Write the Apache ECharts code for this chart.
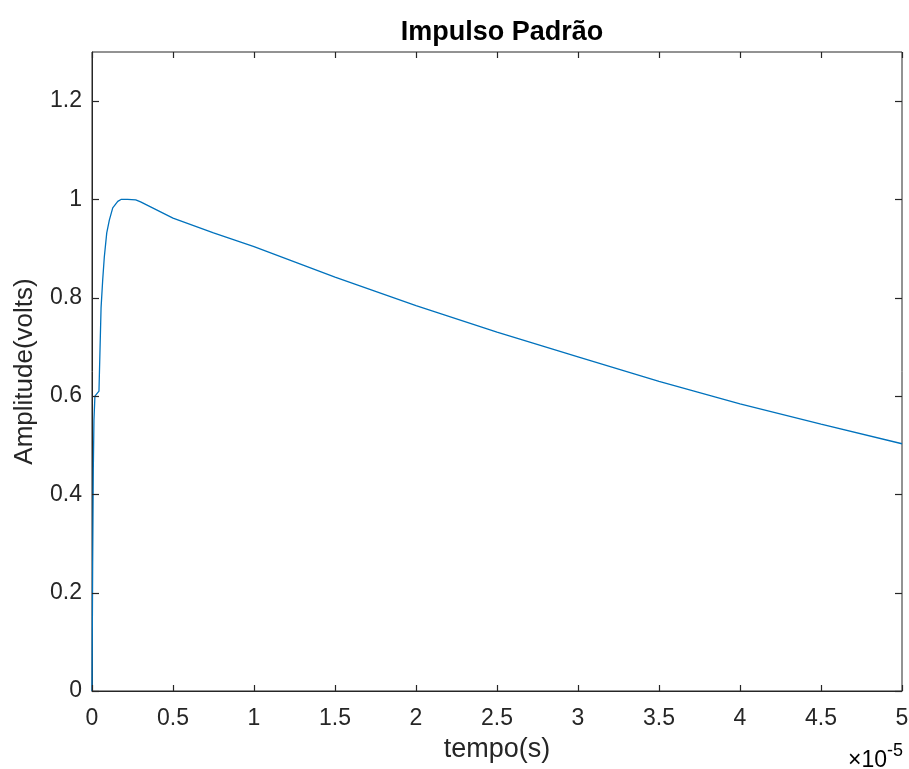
<!DOCTYPE html>
<html>
<head>
<meta charset="utf-8">
<script src="https://cdn.jsdelivr.net/npm/echarts@6/dist/echarts.min.js"></script>
<style>html,body{margin:0;padding:0;background:#fff}#chart{width:909px;height:769px}</style>
</head>
<body>
<div id="chart"></div>
<script>
// time in seconds
const timeSec = [0, 0.04e-6, 0.08e-6, 0.12e-6, 0.18e-6, 0.43e-6, 0.56e-6, 0.66e-6, 0.76e-6, 0.91e-6, 1.07e-6, 1.28e-6, 1.59e-6, 1.79e-6, 2.2e-6, 2.7e-6, 3.0e-6, 5e-6, 7.5e-6, 10e-6, 15e-6, 20e-6, 25e-6, 30e-6, 35e-6, 40e-6, 45e-6, 50e-6];
const amplitude = [0, 0.254, 0.45, 0.55, 0.60, 0.61, 0.78, 0.836, 0.883, 0.932, 0.958, 0.983, 0.996, 1.0, 1.0, 0.999, 0.995, 0.962, 0.932, 0.904, 0.842, 0.784, 0.73, 0.68, 0.63, 0.584, 0.543, 0.503];
const xTicks = [0, 0.5e-5, 1e-5, 1.5e-5, 2e-5, 2.5e-5, 3e-5, 3.5e-5, 4e-5, 4.5e-5, 5e-5];
const yTicks = [0, 0.2, 0.4, 0.6, 0.8, 1.0, 1.2];
const xRange = [0, 5e-5];
const yRange = [0, 1.3];
const titleText = 'Impulso Padrão';
const xName = 'tempo(s)';
const yName = 'Amplitude(volts)';
const expText = ['×10', '-5'];

const data = timeSec.map((t, i) => [t, amplitude[i]]);
const axisColor = '#262626';
const font = 'Liberation Sans, Arial, Helvetica, sans-serif';
const xFmt = v => String(+(v * 1e5).toFixed(2));
const yFmt = v => (yTicks.some(t => Math.abs(t - v) < 1e-9) ? String(+v.toFixed(2)) : '');
const crisp = v => Math.round(v) + 0.5;

const chart = echarts.init(document.getElementById('chart'));
chart.setOption({
  animation: false,
  title: {
    text: titleText, left: 497, top: 14, textAlign: 'center',
    textStyle: {fontFamily: font, fontSize: 27, fontWeight: 'bold', color: '#000'}
  },
  grid: {left: 92, right: 7, top: 52, bottom: 78, outerBoundsMode: 'none', containLabel: false,
    show: true, borderColor: axisColor, borderWidth: 1, backgroundColor: 'rgba(0,0,0,0)'},
  xAxis: {
    type: 'value', min: xRange[0], max: xRange[1], interval: 0.5e-5, position: 'bottom',
    name: xName, nameLocation: 'middle', nameGap: 45,
    nameTextStyle: {fontFamily: font, fontSize: 27, color: axisColor},
    axisLine: {show: true, onZero: false, lineStyle: {color: axisColor, width: 1}},
    axisTick: {show: false},
    axisLabel: {fontFamily: font, fontSize: 23, color: axisColor, margin: 16, formatter: xFmt},
    splitLine: {show: false}
  },
  yAxis: {
    type: 'value', min: yRange[0], max: yRange[1], interval: 0.2, position: 'left',
    name: yName, nameLocation: 'middle', nameGap: 54,
    nameTextStyle: {fontFamily: font, fontSize: 26, color: axisColor},
    axisLine: {show: true, onZero: false, lineStyle: {color: axisColor, width: 1}},
    axisTick: {show: false},
    axisLabel: {fontFamily: font, fontSize: 23, color: axisColor, margin: 10, formatter: yFmt},
    splitLine: {show: false}
  },
  series: [{
    type: 'line', data: data, showSymbol: false, smooth: false, z: 3,
    lineStyle: {color: '#0072BD', width: 1.3}
  }]
});

// tick marks on all four sides, placed through the chart's own scales
const tickElems = [];
const lineEl = (x1, y1, x2, y2) => ({
  type: 'line', z: 100, silent: true,
  shape: {x1: x1, y1: y1, x2: x2, y2: y2},
  style: {stroke: axisColor, lineWidth: 1.2}
});
xTicks.forEach(v => {
  const b = chart.convertToPixel({gridIndex: 0}, [v, yRange[0]]);
  const t = chart.convertToPixel({gridIndex: 0}, [v, yRange[1]]);
  const x = crisp(b[0]);
  tickElems.push(lineEl(x, b[1], x, b[1] - 6));
  tickElems.push(lineEl(x, t[1], x, t[1] + 6));
});
yTicks.forEach(v => {
  const l = chart.convertToPixel({gridIndex: 0}, [xRange[0], v]);
  const r = chart.convertToPixel({gridIndex: 0}, [xRange[1], v]);
  const y = crisp(l[1]);
  tickElems.push(lineEl(l[0], y, l[0] + 7, y));
  tickElems.push(lineEl(r[0], y, r[0] - 7, y));
});
tickElems.push({
  type: 'text', right: 6, bottom: -3, z: 100,
  style: {
    text: '{a|' + expText[0] + '}{b|' + expText[1] + '}',
    rich: {
      a: {fontFamily: font, fontSize: 23, color: axisColor, verticalAlign: 'bottom'},
      b: {fontFamily: font, fontSize: 18, color: axisColor, verticalAlign: 'top', padding: [0, 0, 12, 0]}
    }
  }
});
chart.setOption({graphic: tickElems});
</script>
</body>
</html>
